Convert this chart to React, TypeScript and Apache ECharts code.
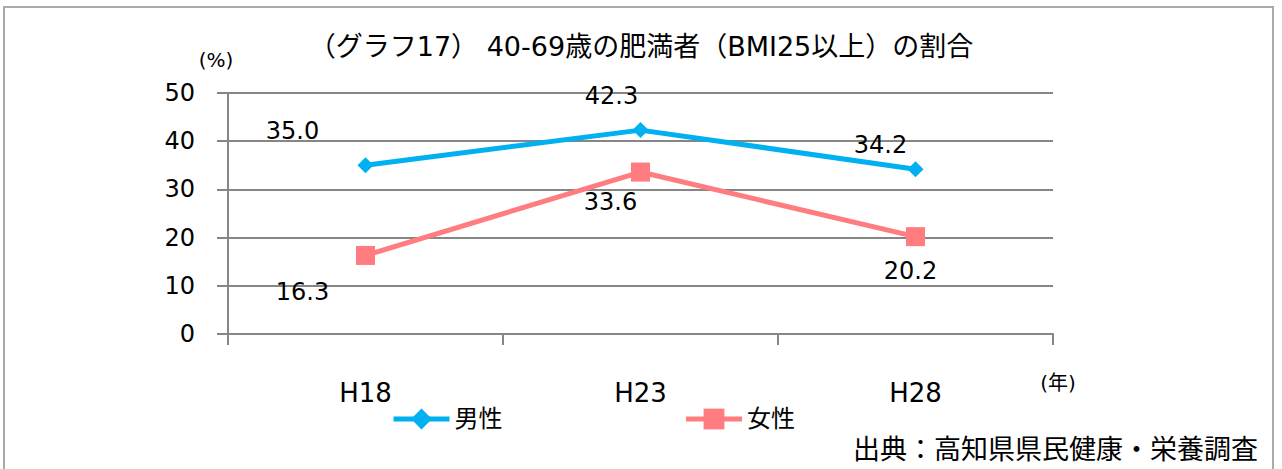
import React, { useEffect, useRef } from "react";
import * as echarts from "echarts";

const categories = ["H18", "H23", "H28"];
const maleValues = [35.0, 42.3, 34.2];
const femaleValues = [16.3, 33.6, 20.2];
const yTicks = [0, 10, 20, 30, 40, 50];

const maleLabelOffsets = [[-73, -34], [-29, -34], [-35, -24]];
const femaleLabelOffsets = [[-63, 37], [-30, 30], [-5, 34]];

const FONT = "'DejaVu Sans', 'Noto Sans CJK JP', sans-serif";
const BLUE = "#00B0F0";
const PINK = "#FF7C80";
const AXIS = "#868686";

export default function App() {
  const ref = useRef<HTMLDivElement>(null);
  useEffect(() => {
    if (!ref.current) return;
    const chart = echarts.init(ref.current, null, { renderer: "svg" });
    const mkData = (vals: number[], offs: number[][]) =>
      vals.map((v, i) => ({
        value: v,
        label: { offset: offs[i] },
      }));
    chart.setOption({
      animation: false,
      textStyle: { fontFamily: FONT },
      title: {
        text: "（グラフ17） 40-69歳の肥満者（BMI25以上）の割合",
        left: "center",
        top: 28,
        textStyle: { fontFamily: FONT, fontSize: 27, fontWeight: "normal", color: "#000" },
      },
      grid: { left: 228, right: 229, top: 93, bottom: 135 },
      legend: {
        left: 386,
        top: 402,
        itemWidth: 56,
        itemHeight: 26,
        itemGap: 181,
        lineStyle: { width: 5 },
        textStyle: { fontFamily: FONT, fontSize: 24, color: "#000" },
        data: ["男性", "女性"],
      },
      xAxis: {
        type: "category",
        data: categories,
        boundaryGap: true,
        axisLine: { lineStyle: { color: AXIS, width: 2 } },
        axisTick: { show: true, length: 11, alignWithLabel: false, lineStyle: { color: AXIS, width: 2 } },
        axisLabel: { fontFamily: FONT, fontSize: 26, color: "#000", margin: 46 },
        splitLine: { show: false },
      },
      yAxis: {
        type: "value",
        min: yTicks[0],
        max: yTicks[yTicks.length - 1],
        interval: 10,
        axisLine: { show: true, lineStyle: { color: AXIS, width: 2 } },
        axisTick: { show: true, length: 11, lineStyle: { color: AXIS, width: 2 } },
        axisLabel: { fontFamily: FONT, fontSize: 24, color: "#000", margin: 33 },
        splitLine: { show: true, lineStyle: { color: AXIS, width: 2 } },
      },
      series: [
        {
          name: "男性",
          type: "line",
          data: mkData(maleValues, maleLabelOffsets),
          symbol: "diamond",
          symbolSize: 16,
          lineStyle: { color: BLUE, width: 5 },
          itemStyle: { color: BLUE },
          label: {
            show: true,
            position: "inside",
            formatter: (p: any) => Number(p.value).toFixed(1),
            fontFamily: FONT,
            fontSize: 24,
            color: "#000",
          },
        },
        {
          name: "女性",
          type: "line",
          data: mkData(femaleValues, femaleLabelOffsets),
          symbol: "rect",
          symbolSize: 19,
          lineStyle: { color: PINK, width: 5 },
          itemStyle: { color: PINK },
          label: {
            show: true,
            position: "inside",
            formatter: (p: any) => Number(p.value).toFixed(1),
            fontFamily: FONT,
            fontSize: 24,
            color: "#000",
          },
        },
      ],
      graphic: [
        {
          type: "rect",
          shape: { x: 4, y: 7, width: 1269, height: 480 },
          style: { fill: "none", stroke: "#AAAAAA", lineWidth: 2 },
          silent: true,
        },
        {
          type: "text",
          x: 216,
          y: 60,
          style: { text: "(%)", fontFamily: FONT, fontSize: 20, fill: "#000", align: "center", verticalAlign: "middle" },
        },
        {
          type: "text",
          x: 1058,
          y: 383,
          style: { text: "(年)", fontFamily: FONT, fontSize: 20, fill: "#000", align: "center", verticalAlign: "middle" },
        },
        {
          type: "text",
          x: 1258,
          y: 449,
          style: { text: "出典：高知県県民健康・栄養調査", fontFamily: FONT, fontSize: 27, fill: "#000", align: "right", verticalAlign: "middle" },
        },
      ],
    });
    return () => chart.dispose();
  }, []);
  return (
    <div
      ref={ref}
      style={{ position: "absolute", left: 0, top: 0, width: 1282, height: 469, background: "#fff" }}
    />
  );
}
